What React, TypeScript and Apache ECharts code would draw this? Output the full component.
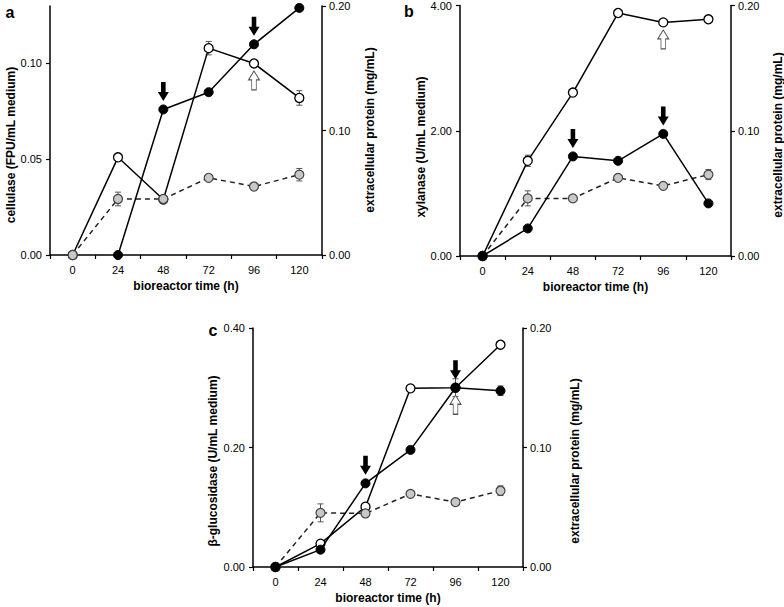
import React, { useEffect, useRef } from 'react';
import * as echarts from 'echarts';

// ---------- data ----------
const hours = [0, 24, 48, 72, 96, 120];
const xTickValues = [-12, 12, 36, 60, 84, 108, 132];

// panel a: cellulase (FPU/mL medium)
const cellulaseFilled = [null, 0, 0.076, 0.085, 0.110, 0.129];
const cellulaseFilledErr = [0, 0, 0, 0, 0, 0];
const cellulaseOpen = [0, 0.051, 0.029, 0.108, 0.100, 0.082];
const cellulaseOpenErr = [0, 0, 0, 0.0035, 0, 0.0038];
const proteinA = [0, 0.045, 0.045, 0.062, 0.055, 0.0645];
const proteinAErr = [0, 0.0055, 0, 0, 0, 0.005];
const cellulaseDownArrows = [48, 96];
const cellulaseUpArrows = [96];

// panel b: xylanase (U/mL medium)
const xylanaseFilled = [0, 0.44, 1.59, 1.52, 1.95, 0.84];
const xylanaseFilledErr = [0, 0, 0, 0, 0, 0];
const xylanaseOpen = [0, 1.52, 2.61, 3.88, 3.73, 3.78];
const xylanaseOpenErr = [0, 0.09, 0, 0, 0, 0];
const proteinB = [0, 0.046, 0.046, 0.0624, 0.056, 0.065];
const proteinBErr = [0, 0.006, 0, 0, 0, 0.004];
const xylanaseDownArrows = [48, 96];
const xylanaseUpArrows = [96];

// panel c: beta-glucosidase (U/mL medium)
const glucosidaseFilled = [0, 0.029, 0.140, 0.196, 0.300, 0.295];
const glucosidaseFilledErr = [0, 0, 0, 0, 0.015, 0.008];
const glucosidaseOpen = [0, 0.039, 0.101, 0.299, 0.300, 0.372];
const glucosidaseOpenErr = [0, 0, 0, 0, 0, 0];
const proteinC = [0, 0.0453, 0.0448, 0.0612, 0.0543, 0.0638];
const proteinCErr = [0, 0.0075, 0, 0, 0, 0.004];
const glucosidaseDownArrows = [48, 96];
const glucosidaseUpArrows = [96];

const leftTicksA = [0, 0.05, 0.1];
const leftTicksB = [0, 2, 4];
const leftTicksC = [0, 0.2, 0.4];
const rightTicks = [0, 0.1, 0.2];

const xTitle = 'bioreactor time (h)';
const rightTitle = 'extracellular protein (mg/mL)';

// ---------- styling / layout ----------
const FONT = '"Liberation Sans", Arial, Helvetica, sans-serif';
const DOWN_PATH = 'path://M3.5,0 L8.5,0 L8.5,10 L12,10 L6,19 L0,10 L3.5,10 Z';
const UP_PATH = 'path://M6,0 L12,9 L8.5,9 L8.5,19 L3.5,19 L3.5,9 L0,9 Z';

type Panel = {
  letter: string;
  letterPos: [number, number];
  grid: { left: number; top: number; width: number; height: number };
  leftMax: number;
  leftTicks: number[];
  leftName: string;
  leftNamePos: [number, number];
  rightNamePos: [number, number];
  filled: (number | null)[];
  filledErr: number[];
  open: (number | null)[];
  openErr: number[];
  protein: number[];
  proteinErr: number[];
  down: number[];
  up: number[];
};

const panels: Panel[] = [
  {
    letter: 'a', letterPos: [10, 12],
    grid: { left: 50, top: 6, width: 272, height: 249 },
    leftMax: 0.13, leftTicks: leftTicksA, leftName: 'cellulase (FPU/mL medium)',
    leftNamePos: [11, 145], rightNamePos: [370, 130],
    filled: cellulaseFilled, filledErr: cellulaseFilledErr,
    open: cellulaseOpen, openErr: cellulaseOpenErr,
    protein: proteinA, proteinErr: proteinAErr,
    down: cellulaseDownArrows, up: cellulaseUpArrows,
  },
  {
    letter: 'b', letterPos: [409, 11],
    grid: { left: 460, top: 5, width: 271, height: 251 },
    leftMax: 4, leftTicks: leftTicksB, leftName: 'xylanase (U/mL medium)',
    leftNamePos: [421, 147], rightNamePos: [778, 135],
    filled: xylanaseFilled, filledErr: xylanaseFilledErr,
    open: xylanaseOpen, openErr: xylanaseOpenErr,
    protein: proteinB, proteinErr: proteinBErr,
    down: xylanaseDownArrows, up: xylanaseUpArrows,
  },
  {
    letter: 'c', letterPos: [213, 330],
    grid: { left: 253, top: 328, width: 270, height: 239 },
    leftMax: 0.4, leftTicks: leftTicksC, leftName: 'β-glucosidase (U/mL medium)',
    leftNamePos: [213, 461], rightNamePos: [575, 461],
    filled: glucosidaseFilled, filledErr: glucosidaseFilledErr,
    open: glucosidaseOpen, openErr: glucosidaseOpenErr,
    protein: proteinC, proteinErr: proteinCErr,
    down: glucosidaseDownArrows, up: glucosidaseUpArrows,
  },
];

const pairs = (vals: (number | null)[]) => hours.map((h, i) => [h, vals[i]]);
const errData = (vals: (number | null)[], errs: number[]) =>
  hours
    .map((h, i) => (errs[i] > 0 && vals[i] != null ? [h, (vals[i] as number) - errs[i], (vals[i] as number) + errs[i]] : null))
    .filter((d) => d !== null);

const valueAt = (vals: (number | null)[], h: number) => vals[hours.indexOf(h)] as number;

const errorRender = (params: any, api: any) => {
  const x = api.value(0);
  const lo = api.coord([x, api.value(1)]);
  const hi = api.coord([x, api.value(2)]);
  const w = 3;
  const style = { stroke: '#555', lineWidth: 1 };
  return {
    type: 'group',
    children: [
      { type: 'line', shape: { x1: hi[0], y1: hi[1], x2: lo[0], y2: lo[1] }, style },
      { type: 'line', shape: { x1: hi[0] - w, y1: hi[1], x2: hi[0] + w, y2: hi[1] }, style },
      { type: 'line', shape: { x1: lo[0] - w, y1: lo[1], x2: lo[0] + w, y2: lo[1] }, style },
    ],
  };
};

function verticalName(text: string, pos: [number, number]) {
  return {
    type: 'text', x: pos[0], y: pos[1], rotation: Math.PI / 2,
    style: {
      text, fontSize: 12, fontWeight: 'bold', fontFamily: FONT, fill: '#000',
      align: 'center', verticalAlign: 'middle',
    },
  };
}

function buildOption() {
  const grid: any[] = [];
  const xAxis: any[] = [];
  const yAxis: any[] = [];
  const series: any[] = [];
  const graphic: any[] = [];

  const axisLine = { show: true, onZero: false, lineStyle: { color: '#000', width: 1.5 } };
  const axisTick = { show: true, inside: false, length: 4, lineStyle: { color: '#000', width: 1.2 } };
  const labelStyle = { color: '#000', fontSize: 11, fontFamily: FONT };
  const nameStyle = { color: '#000', fontSize: 12, fontWeight: 'bold', fontFamily: FONT };

  panels.forEach((p, gi) => {
    grid.push({ ...p.grid, containLabel: false });
    xAxis.push({
      type: 'value', gridIndex: gi, min: -12, max: 132,
      axisLine, splitLine: { show: false },
      axisTick: { ...axisTick, customValues: xTickValues },
      axisLabel: { ...labelStyle, margin: 9, customValues: hours, formatter: (v: number) => String(v) },
      name: xTitle, nameLocation: 'middle', nameGap: 25, nameTextStyle: nameStyle,
    });
    const fmt = (v: number) => v.toFixed(2);
    yAxis.push({
      type: 'value', gridIndex: gi, position: 'left', min: 0, max: p.leftMax,
      axisLine, splitLine: { show: false },
      axisTick: { ...axisTick, customValues: p.leftTicks },
      axisLabel: { ...labelStyle, margin: 8, customValues: p.leftTicks, formatter: fmt },
    });
    yAxis.push({
      type: 'value', gridIndex: gi, position: 'right', min: 0, max: 0.2,
      axisLine, splitLine: { show: false },
      axisTick: { ...axisTick, customValues: rightTicks },
      axisLabel: { ...labelStyle, margin: 7, customValues: rightTicks, formatter: fmt },
    });
    const yl = gi * 2;
    const yr = gi * 2 + 1;

    // error bars
    series.push({
      type: 'custom', xAxisIndex: gi, yAxisIndex: yl, z: 1, silent: true,
      renderItem: errorRender, encode: { x: 0, y: [1, 2] },
      data: [...errData(p.open, p.openErr), ...errData(p.filled, p.filledErr)],
    });
    series.push({
      type: 'custom', xAxisIndex: gi, yAxisIndex: yr, z: 1, silent: true,
      renderItem: errorRender, encode: { x: 0, y: [1, 2] },
      data: errData(p.protein, p.proteinErr),
    });

    // open circles (solid line)
    series.push({
      type: 'line', xAxisIndex: gi, yAxisIndex: yl, z: 2, clip: false,
      data: pairs(p.open), symbol: 'circle', symbolSize: 9,
      lineStyle: { color: '#000', width: 1.5 },
      itemStyle: { color: '#fff', borderColor: '#000', borderWidth: 1.3 },
      markPoint: {
        silent: true, label: { show: false },
        data: p.up.map((h) => ({
          coord: [h, valueAt(p.open, h)], symbol: UP_PATH, symbolSize: [11, 19], symbolOffset: [0, 17],
          itemStyle: { color: '#fff', borderColor: '#555', borderWidth: 1 },
        })),
      },
    });
    // protein (grey, dashed)
    series.push({
      type: 'line', xAxisIndex: gi, yAxisIndex: yr, z: 3, clip: false,
      data: pairs(p.protein), symbol: 'circle', symbolSize: 9,
      lineStyle: { color: '#222', width: 1.5, type: [5, 4] },
      itemStyle: { color: '#c8c8c8', borderColor: '#444', borderWidth: 1.2 },
    });
    // filled circles (solid line)
    series.push({
      type: 'line', xAxisIndex: gi, yAxisIndex: yl, z: 4, clip: false,
      data: pairs(p.filled), symbol: 'circle', symbolSize: 9,
      lineStyle: { color: '#000', width: 1.5 },
      itemStyle: { color: '#000', borderColor: '#000', borderWidth: 1 },
      markPoint: {
        silent: true, label: { show: false },
        data: p.down.map((h) => ({
          coord: [h, valueAt(p.filled, h)], symbol: DOWN_PATH, symbolSize: [11, 19], symbolOffset: [0, -18],
          itemStyle: { color: '#000' },
        })),
      },
    });

    graphic.push({
      type: 'text', x: p.letterPos[0], y: p.letterPos[1],
      style: { text: p.letter, fontSize: 16, fontWeight: 'bold', fontFamily: FONT, fill: '#000', align: 'center', verticalAlign: 'middle' },
    });
    graphic.push(verticalName(p.leftName, p.leftNamePos));
    graphic.push(verticalName(rightTitle, p.rightNamePos));
  });

  return { animation: false, backgroundColor: '#fff', grid, xAxis, yAxis, series, graphic };
}

export default function App() {
  const ref = useRef<HTMLDivElement>(null);
  useEffect(() => {
    if (!ref.current) return;
    const chart = echarts.init(ref.current, undefined, { renderer: 'svg' });
    chart.setOption(buildOption() as any);
    return () => chart.dispose();
  }, []);
  return (
    <div
      ref={ref}
      style={{ position: 'absolute', left: 0, top: 0, width: 784, height: 607, background: '#fff' }}
    />
  );
}
